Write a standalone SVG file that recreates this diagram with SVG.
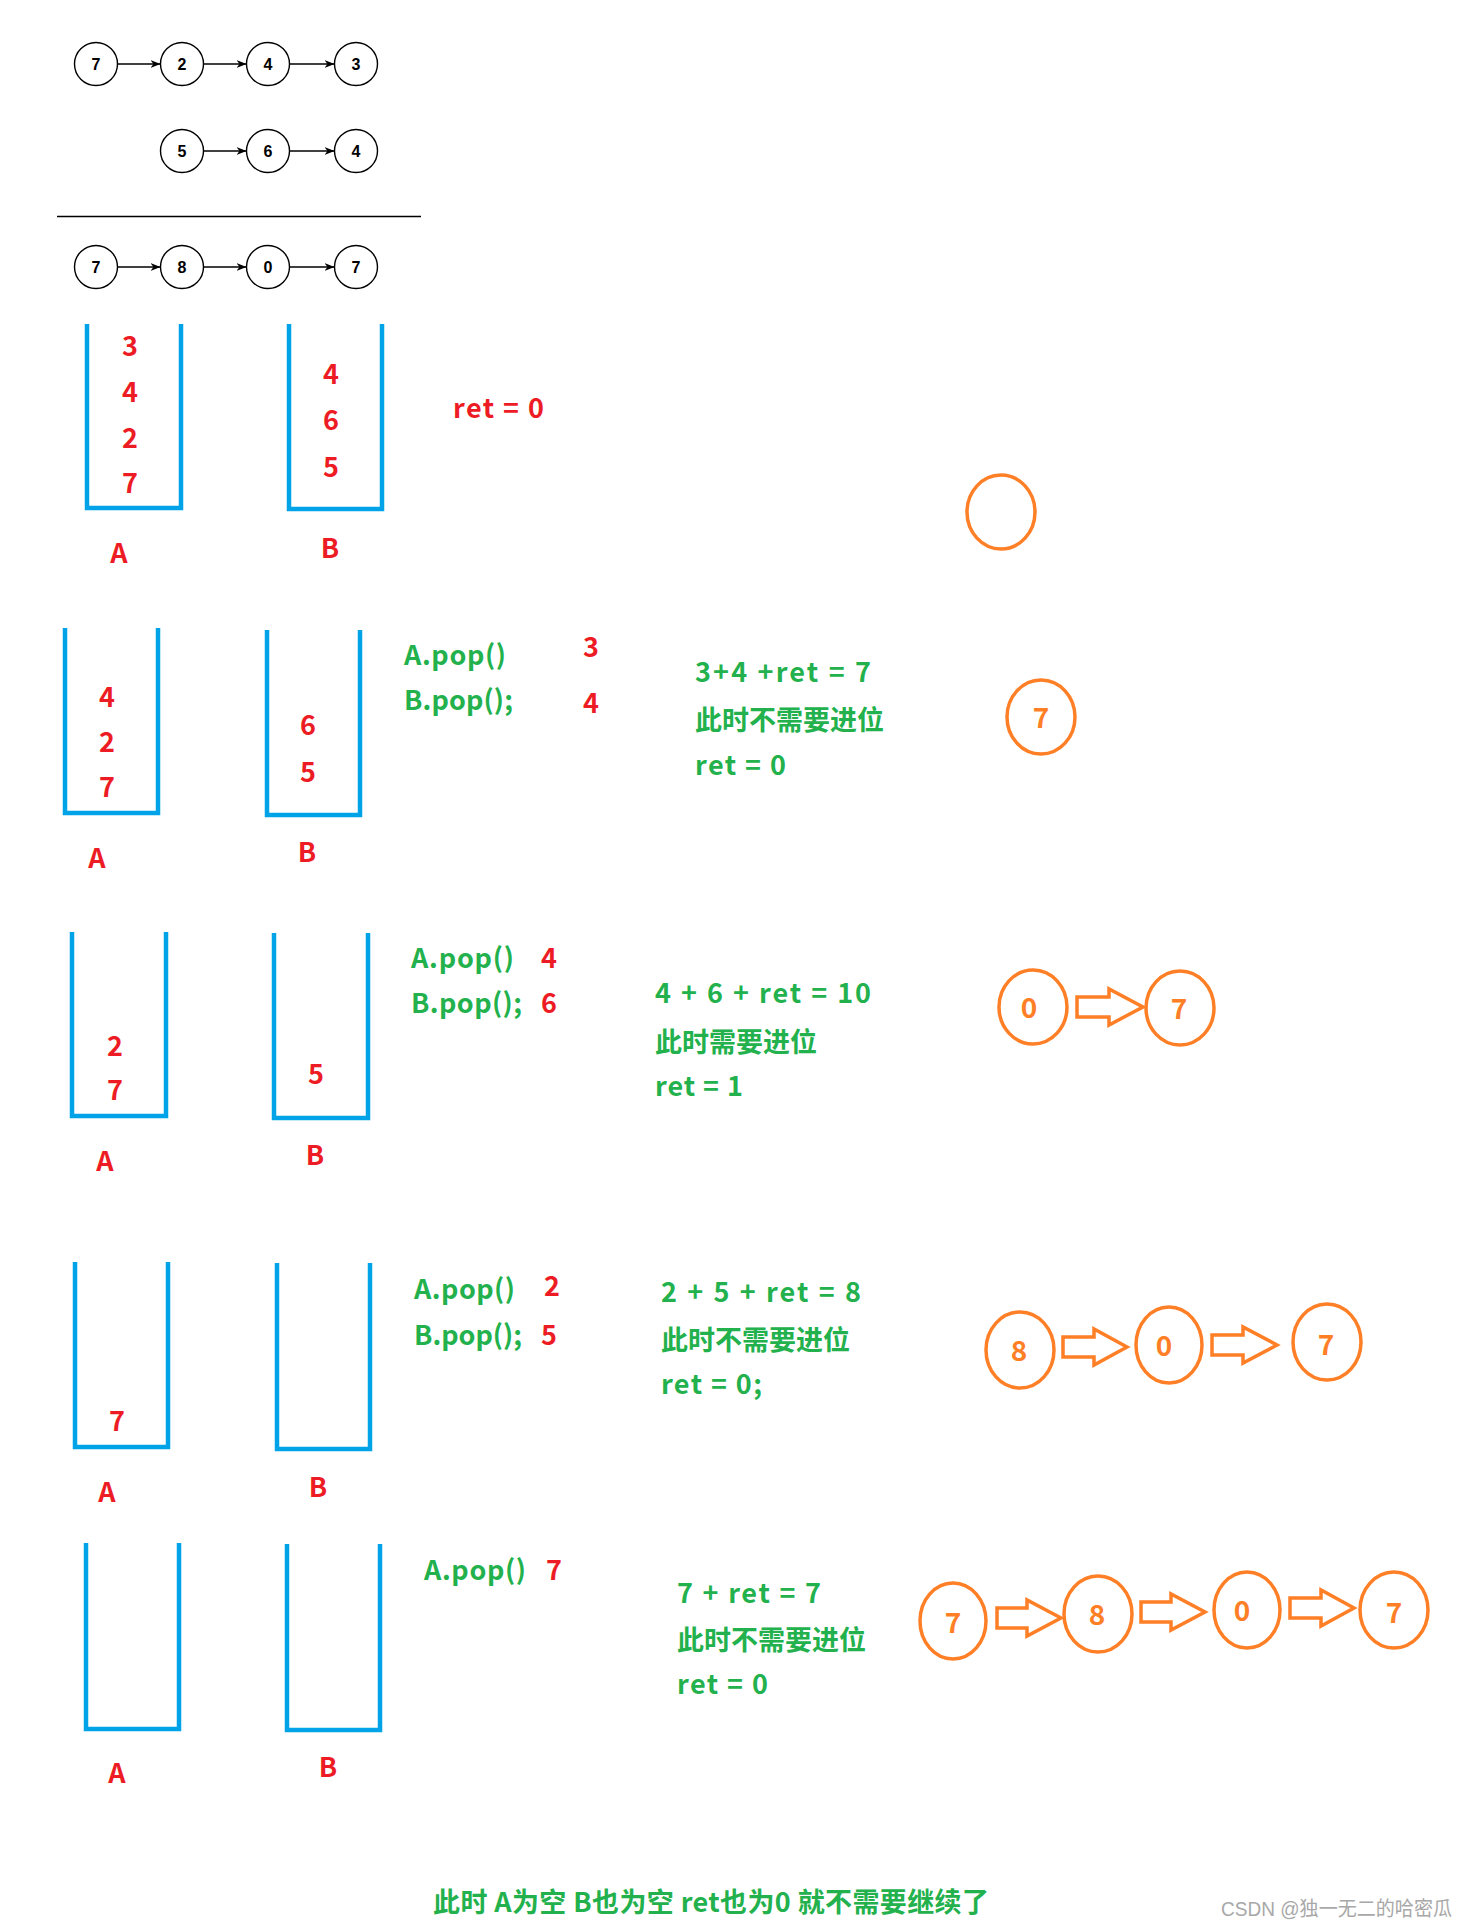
<svg xmlns="http://www.w3.org/2000/svg" width="1468" height="1929" viewBox="0 0 1468 1929">
<defs>
<style>
.ln{fill:#fff;stroke:#000;stroke-width:1.4}
.lt{font:bold 16px "Liberation Sans",Arial,sans-serif;fill:#000;text-anchor:middle}
.cn{stroke:#000;stroke-width:1.4;fill:none;marker-end:url(#ah)}
.stk{fill:none;stroke:#00A2E8;stroke-width:4.5;stroke-linejoin:miter}
.r{font:bold 27px "Noto Sans CJK SC","Noto Sans",sans-serif;fill:#ED1C24}
.rc{font:bold 27px "Noto Sans CJK SC","Noto Sans",sans-serif;fill:#ED1C24;text-anchor:middle}
.g{font:bold 27px "Noto Sans CJK SC","Noto Sans",sans-serif;fill:#22B14C}
.oc{fill:#fff;stroke:#FF7F27;stroke-width:3.5}
.ot{font:bold 28px "Noto Sans CJK SC","Noto Sans",sans-serif;fill:#FF7F27;text-anchor:middle}
.ba{fill:#fff;stroke:#FF7F27;stroke-width:3.5;stroke-linejoin:miter}
.wm{font:20px "Liberation Sans","Noto Sans CJK SC",sans-serif;fill:#a8a8a8}
</style>
<marker id="ah" markerUnits="userSpaceOnUse" markerWidth="10" markerHeight="8" refX="10" refY="4" orient="auto">
<path d="M0,0 L10,4 L0,8 L3,4 z" fill="#000"/>
</marker>
</defs>
<rect width="1468" height="1929" fill="#fff"/>

<!-- top linked lists -->
<g id="connectors">
<line class="cn" x1="117.5" y1="64" x2="160.5" y2="64"/>
<line class="cn" x1="203.5" y1="64" x2="246.5" y2="64"/>
<line class="cn" x1="289.5" y1="64" x2="334.5" y2="64"/>
<line class="cn" x1="203.5" y1="151" x2="246.5" y2="151"/>
<line class="cn" x1="289.5" y1="151" x2="334.5" y2="151"/>
<line class="cn" x1="117.5" y1="267" x2="160.5" y2="267"/>
<line class="cn" x1="203.5" y1="267" x2="246.5" y2="267"/>
<line class="cn" x1="289.5" y1="267" x2="334.5" y2="267"/>
</g>
<g id="l1n1"><circle class="ln" cx="96" cy="64" r="21.5"/><text class="lt" x="96" y="70">7</text></g>
<g id="l1n2"><circle class="ln" cx="182" cy="64" r="21.5"/><text class="lt" x="182" y="70">2</text></g>
<g id="l1n3"><circle class="ln" cx="268" cy="64" r="21.5"/><text class="lt" x="268" y="70">4</text></g>
<g id="l1n4"><circle class="ln" cx="356" cy="64" r="21.5"/><text class="lt" x="356" y="70">3</text></g>
<g id="l2n1"><circle class="ln" cx="182" cy="151" r="21.5"/><text class="lt" x="182" y="157">5</text></g>
<g id="l2n2"><circle class="ln" cx="268" cy="151" r="21.5"/><text class="lt" x="268" y="157">6</text></g>
<g id="l2n3"><circle class="ln" cx="356" cy="151" r="21.5"/><text class="lt" x="356" y="157">4</text></g>
<line id="sumline" x1="57" y1="216.5" x2="421" y2="216.5" stroke="#000" stroke-width="1.4"/>
<g id="l3n1"><circle class="ln" cx="96" cy="267" r="21.5"/><text class="lt" x="96" y="273">7</text></g>
<g id="l3n2"><circle class="ln" cx="182" cy="267" r="21.5"/><text class="lt" x="182" y="273">8</text></g>
<g id="l3n3"><circle class="ln" cx="268" cy="267" r="21.5"/><text class="lt" x="268" y="273">0</text></g>
<g id="l3n4"><circle class="ln" cx="356" cy="267" r="21.5"/><text class="lt" x="356" y="273">7</text></g>

<!-- step 0 -->
<g id="s0">
<path class="stk" d="M87,324 V508 H181 V324"/>
<text class="rc" x="130" y="356">3</text>
<text class="rc" x="130" y="402">4</text>
<text class="rc" x="130" y="448">2</text>
<text class="rc" x="130" y="493">7</text>
<text class="rc" x="119" y="563">A</text>
<path class="stk" d="M289,324 V509 H382 V324"/>
<text class="rc" x="331" y="384">4</text>
<text class="rc" x="331" y="430">6</text>
<text class="rc" x="331" y="477">5</text>
<text class="rc" x="330" y="558">B</text>
<text class="r" x="453" y="418" textLength="91" lengthAdjust="spacing">ret = 0</text>
<ellipse class="oc" cx="1001" cy="512" rx="34" ry="37"/>
</g>

<!-- step 1 -->
<g id="s1">
<path class="stk" d="M65,628 V813 H158 V628"/>
<text class="rc" x="107" y="707">4</text>
<text class="rc" x="107" y="752">2</text>
<text class="rc" x="107" y="797">7</text>
<text class="rc" x="97" y="868">A</text>
<path class="stk" d="M267,630 V815 H360 V630"/>
<text class="rc" x="308" y="735">6</text>
<text class="rc" x="308" y="782">5</text>
<text class="rc" x="307" y="862">B</text>
<text class="g" x="404" y="665" textLength="102" lengthAdjust="spacing">A.pop()</text>
<text class="g" x="404" y="710" textLength="109" lengthAdjust="spacing">B.pop();</text>
<text class="rc" x="591" y="657">3</text>
<text class="rc" x="591" y="713">4</text>
<text class="g" x="695" y="682" textLength="176" lengthAdjust="spacing">3+4 +ret = 7</text>
<text class="g" x="695" y="730">此时不需要进位</text>
<text class="g" x="695" y="775" textLength="91" lengthAdjust="spacing">ret = 0</text>
<ellipse class="oc" cx="1041" cy="717" rx="34" ry="37"/>
<text class="ot" x="1041" y="728">7</text>
</g>

<!-- step 2 -->
<g id="s2">
<path class="stk" d="M72,932 V1116 H166 V932"/>
<text class="rc" x="115" y="1056">2</text>
<text class="rc" x="115" y="1100">7</text>
<text class="rc" x="105" y="1171">A</text>
<path class="stk" d="M274,933 V1118 H368 V933"/>
<text class="rc" x="316" y="1084">5</text>
<text class="rc" x="315" y="1165">B</text>
<text class="g" x="411" y="968" textLength="103" lengthAdjust="spacing">A.pop()</text>
<text class="g" x="411" y="1013" textLength="111" lengthAdjust="spacing">B.pop();</text>
<text class="rc" x="549" y="968">4</text>
<text class="rc" x="549" y="1013">6</text>
<text class="g" x="655" y="1003" textLength="216" lengthAdjust="spacing">4 + 6 + ret = 10</text>
<text class="g" x="655" y="1052">此时需要进位</text>
<text class="g" x="655" y="1096" textLength="88" lengthAdjust="spacing">ret = 1</text>
<ellipse class="oc" cx="1033" cy="1007" rx="34" ry="37"/>
<text class="ot" x="1029" y="1018">0</text>
<path class="ba" d="M1077,997 H1109 V989 L1143,1007 L1109,1025 V1017 H1077 Z"/>
<ellipse class="oc" cx="1180" cy="1008" rx="34" ry="37"/>
<text class="ot" x="1179" y="1019">7</text>
</g>

<!-- step 3 -->
<g id="s3">
<path class="stk" d="M75,1262 V1447 H168 V1262"/>
<text class="rc" x="117" y="1431">7</text>
<text class="rc" x="107" y="1502">A</text>
<path class="stk" d="M277,1263 V1449 H370 V1263"/>
<text class="rc" x="318" y="1497">B</text>
<text class="g" x="414" y="1299" textLength="101" lengthAdjust="spacing">A.pop()</text>
<text class="g" x="414" y="1345" textLength="108" lengthAdjust="spacing">B.pop();</text>
<text class="rc" x="552" y="1296">2</text>
<text class="rc" x="549" y="1345">5</text>
<text class="g" x="661" y="1302" textLength="200" lengthAdjust="spacing">2 + 5 + ret = 8</text>
<text class="g" x="661" y="1350">此时不需要进位</text>
<text class="g" x="661" y="1394" textLength="101" lengthAdjust="spacing">ret = 0;</text>
<ellipse class="oc" cx="1020" cy="1350" rx="34" ry="38"/>
<text class="ot" x="1019" y="1361">8</text>
<path class="ba" d="M1063,1337 H1094 V1329 L1127,1347 L1094,1365 V1357 H1063 Z"/>
<ellipse class="oc" cx="1169" cy="1345" rx="33" ry="38"/>
<text class="ot" x="1164" y="1356">0</text>
<path class="ba" d="M1212,1335 H1243 V1327 L1277,1345 L1243,1363 V1355 H1212 Z"/>
<ellipse class="oc" cx="1327" cy="1342" rx="34" ry="38"/>
<text class="ot" x="1326" y="1355">7</text>
</g>

<!-- step 4 -->
<g id="s4">
<path class="stk" d="M86,1543 V1729 H179 V1543"/>
<text class="rc" x="117" y="1783">A</text>
<path class="stk" d="M287,1544 V1730 H380 V1544"/>
<text class="rc" x="328" y="1777">B</text>
<text class="g" x="424" y="1580" textLength="102" lengthAdjust="spacing">A.pop()</text>
<text class="rc" x="554" y="1580">7</text>
<text class="g" x="677" y="1603" textLength="144" lengthAdjust="spacing">7 + ret = 7</text>
<text class="g" x="677" y="1650">此时不需要进位</text>
<text class="g" x="677" y="1694" textLength="91" lengthAdjust="spacing">ret = 0</text>
<ellipse class="oc" cx="953" cy="1621" rx="33" ry="38"/>
<text class="ot" x="953" y="1633">7</text>
<path class="ba" d="M997,1608 H1027 V1600 L1061,1618 L1027,1636 V1628 H997 Z"/>
<ellipse class="oc" cx="1098" cy="1614" rx="34" ry="38"/>
<text class="ot" x="1097" y="1625">8</text>
<path class="ba" d="M1141,1602 H1171 V1594 L1205,1612 L1171,1630 V1622 H1141 Z"/>
<ellipse class="oc" cx="1247" cy="1610" rx="33" ry="38"/>
<text class="ot" x="1242" y="1621">0</text>
<path class="ba" d="M1290,1598 H1321 V1590 L1354,1608 L1321,1626 V1618 H1290 Z"/>
<ellipse class="oc" cx="1394" cy="1610" rx="34" ry="38"/>
<text class="ot" x="1394" y="1623">7</text>
</g>

<text id="conclusion" class="g" x="433" y="1912" textLength="556" lengthAdjust="spacing">此时 A为空 B也为空 ret也为0 就不需要继续了</text>
<text id="watermark" class="wm" x="1221" y="1916" textLength="231" lengthAdjust="spacingAndGlyphs">CSDN @独一无二的哈密瓜</text>
</svg>
